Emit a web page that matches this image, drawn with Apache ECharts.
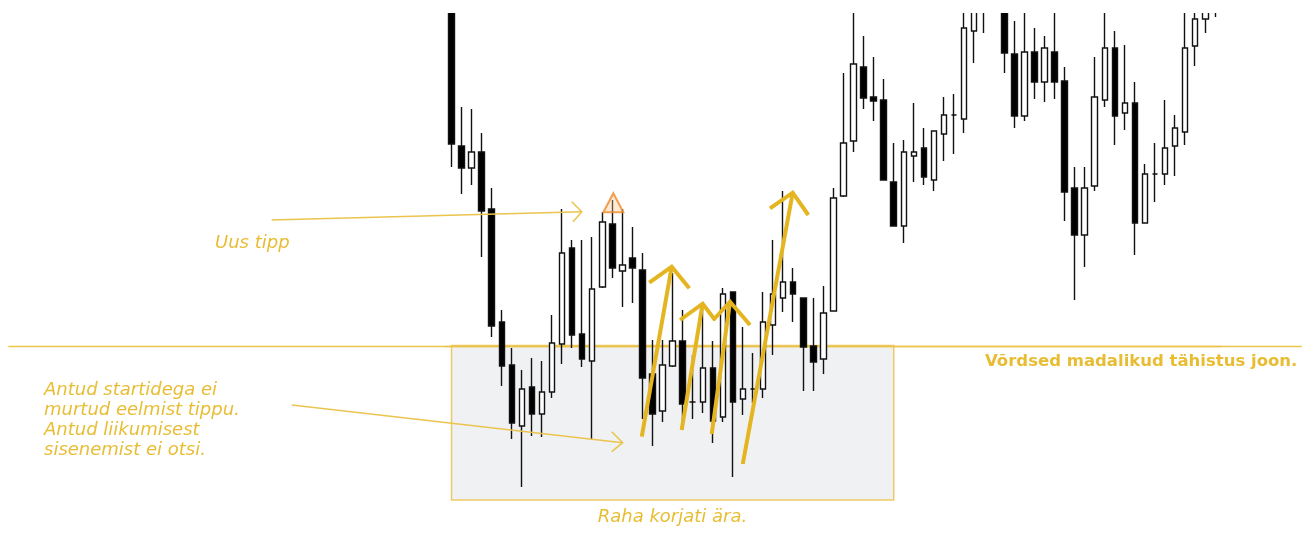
<!DOCTYPE html>
<html><head><meta charset="utf-8">
<script src="https://cdn.jsdelivr.net/npm/echarts@6/dist/echarts.min.js"></script>
<style>html,body{margin:0;padding:0;background:#fff}#c{width:1316px;height:533px}</style>
</head><body><div id="c"></div>
<script>
// ---- candle data (price units) ----
const categories = ['1','2','3','4','5','6','7','8','9','10','11','12','13','14','15','16','17','18','19','20',
'21','22','23','24','25','26','27','28','29','30','31','32','33','34','35','36','37','38','39','40',
'41','42','43','44','45','46','47','48','49','50','51','52','53','54','55','56','57','58','59','60',
'61','62','63','64','65','66','67','68','69','70','71','72','73','74','75','76','77'];
const opens  = [553,387,365,381,324,211,168,107,146,119,141,189,285,199,172,246,309,262,275,263,
159,122,167,192,131,131,165,116,241,134,144,144,208,235,251,235,187,174,222,337,
392,466,436,433,351,307,377,385,353,399,418,414,502,525,560,560,479,417,481,451,
481,452,345,298,347,433,485,420,430,310,359,359,387,401,487,514,530];
const closes = [389,365,381,322,207,167,110,144,119,141,190,280,198,174,244,311,265,268,265,155,
119,168,192,129,131,165,112,239,131,144,144,211,239,251,239,186,171,220,335,390,
469,435,432,353,307,381,381,356,402,418,418,505,545,560,580,480,417,481,451,485,
451,341,298,345,436,485,417,430,310,359,359,385,405,485,514,535,545];
const lows   = [366,339,348,276,196,147,94,46,97,96,135,169,185,166,94,245,255,226,230,114,
87,111,166,103,114,120,90,111,56,118,130,135,178,221,211,142,142,159,222,336,
381,424,412,353,307,290,351,348,342,372,379,400,470,500,530,460,405,412,434,431,
434,312,233,266,342,426,388,403,278,310,331,348,357,388,467,500,516];
const highs  = [573,426,424,400,345,223,185,163,175,172,218,324,293,293,296,321,333,324,306,280,
193,193,260,223,178,230,192,245,241,206,180,241,293,342,265,235,235,247,345,460,
525,497,476,454,390,393,430,405,402,436,439,530,560,575,590,575,512,528,505,497,
525,466,366,366,476,525,502,488,451,369,390,433,418,530,530,545,555];

// ---- annotation coordinates: [bar index, price] ----
const levelPrice = 186.5;
const levelLine = [[-44.1, levelPrice], [84.6, levelPrice]];
const rangeBox = [[0, 187.5], [44, 33]];
const peakMarker = [[16.1, 330.3]];
const thinArrows = [
  [[-17.9, 313], [12.96, 321.3]],
  [[11.96, 331.3], [12.96, 321.3], [12.09, 311.3]],
  [[-15.9, 128], [17.03, 90.3]],
  [[15.94, 101.3], [17.03, 90.3], [15.94, 81.3]]
];
const thickArrows = [
  [[18.93, 96.3], [21.91, 266.3]],
  [[19.68, 250.3], [21.91, 266.3], [23.66, 244.7]],
  [[22.9, 103], [24.99, 229.7]],
  [[22.74, 213], [24.99, 229.3], [26.22, 213]],
  [[25.89, 99], [27.71, 231.3]],
  [[26.05, 213], [27.71, 231.3], [29.70, 208]],
  [[28.98, 69], [33.95, 340.3]],
  [[31.69, 324.7], [33.95, 340.3], [35.50, 318]]
];

const candles = opens.map((o, i) => [o, closes[i], lows[i], highs[i]]);

const GOLD_THIN = '#EBC44E';
const GOLD_THICK = '#E4B520';
const TEXT_GOLD = '#E8BD33';
const ITALIC = 'italic 18px "DejaVu Sans"';

const chart = echarts.init(document.getElementById('c'), null, {renderer: 'canvas'});
const option = {
  animation: false,
  backgroundColor: '#ffffff',
  grid: {left: 446.5, right: 95.65, top: 13, bottom: 0},
  xAxis: [
    {type: 'category', data: categories, show: false, boundaryGap: true},
    {type: 'value', min: -0.5, max: 76.5, show: false}
  ],
  yAxis: {type: 'value', min: 0, max: 520, show: false},
  series: [
    {type: 'line', xAxisIndex: 1, data: levelLine, symbol: 'none', silent: true, z: 1,
      lineStyle: {color: GOLD_THIN, width: 1.5},
      markArea: {silent: true,
        itemStyle: {color: '#F0F1F3', borderColor: '#EDC965', borderWidth: 1.5},
        data: [[{coord: rangeBox[0]}, {coord: rangeBox[1]}]]}},
    {type: 'candlestick', xAxisIndex: 0, data: candles, barWidth: 6, z: 3,
      itemStyle: {color: '#ffffff', color0: '#000000', borderColor: '#111111', borderColor0: '#111111',
        borderColorDoji: '#111111', borderWidth: 1.4}},
    {type: 'scatter', xAxisIndex: 1, data: peakMarker, symbol: 'triangle', symbolSize: [20, 19], z: 6, silent: true,
      itemStyle: {color: 'rgba(250,196,145,0.45)', borderColor: '#F08A2A', borderWidth: 2}}
  ]
};
chart.setOption(option);

const toPx = (p) => chart.convertToPixel({xAxisIndex: 1, yAxisIndex: 0}, p);
const poly = (pts, color, width, z) => ({type: 'polyline', silent: true, z: z,
  shape: {points: pts.map(toPx)},
  style: {stroke: color, lineWidth: width, fill: null, lineCap: 'butt', lineJoin: 'miter'}});
const txt = (s, x, y, font, align) => ({type: 'text', x: x, y: y, silent: true, z: 30,
  style: {text: s, font: font, fill: TEXT_GOLD, align: align, verticalAlign: 'middle'}});

const graphics = [];
graphics.push(poly(levelLine, GOLD_THIN, 1.5, 1));
thinArrows.forEach(a => graphics.push(poly(a, GOLD_THIN, 1.5, 8)));
thickArrows.forEach(a => graphics.push(poly(a, GOLD_THICK, 4, 9)));
// viewport edge: candles are cut at the top of the plot
graphics.push({type: 'rect', silent: true, z: 20, shape: {x: 0, y: 0, width: 1316, height: 13}, style: {fill: '#ffffff'}});
graphics.push(txt('Uus tipp', 215, 243.5, ITALIC, 'left'));
graphics.push(txt('Antud startidega ei', 44, 390, ITALIC, 'left'));
graphics.push(txt('murtud eelmist tippu.', 44, 410, ITALIC, 'left'));
graphics.push(txt('Antud liikumisest', 44, 430, ITALIC, 'left'));
graphics.push(txt('sisenemist ei otsi.', 44, 450, ITALIC, 'left'));
graphics.push(txt('Võrdsed madalikud tähistus joon.', 985, 361.5, 'bold 16.5px "DejaVu Sans"', 'left'));
graphics.push(txt('Raha korjati ära.', 672.5, 517, ITALIC, 'center'));
chart.setOption({graphic: graphics});
</script></body></html>
